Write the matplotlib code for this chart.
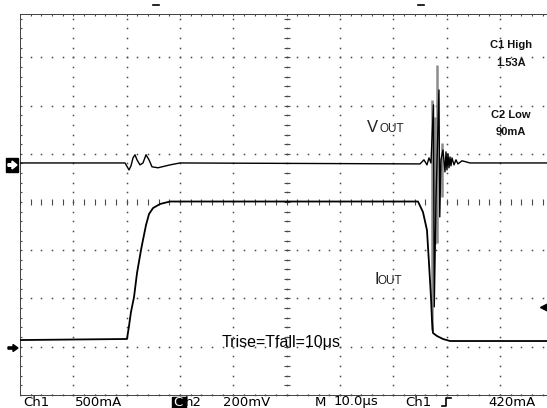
import matplotlib

matplotlib.use("Agg")

import matplotlib.pyplot as plt
import numpy as np
from matplotlib.patches import FancyArrow, Rectangle

# scope settings
CH1_SCALE = 0.5    # A/div
CH2_SCALE = 0.2    # V/div
CH1_GND = -3.05    # ground marker, div from centre
CH2_GND = 0.77
TIME_DIV = 10.0    # us/div

# Ch1: output current, time in us from the left edge of the screen
IOUT_T = [0, 20.06, 20.44, 20.81, 21.38, 21.94, 22.69, 23.06, 23.63, 24.19, 24.94,
          26.25, 28.13, 74.63, 75.56, 76.31, 76.69, 77.06, 77.25, 77.44, 78.19,
          79.31, 80.63, 98.8]
IOUT_A = [0.093, 0.104, 0.239, 0.384, 0.539, 0.788, 1.027, 1.131, 1.286, 1.400, 1.462,
          1.504, 1.53, 1.53, 1.421, 1.234, 0.892, 0.539, 0.301, 0.166, 0.135,
          0.104, 0.083, 0.083]

# Ch2: output voltage (ac), same time base
VOUT_T = [0, 19.69, 20.44, 20.81, 21.19, 21.56, 21.94, 22.5, 23.06, 23.63, 24.19,
          24.75, 25.88, 28.13, 30.0, 75.0, 75.75, 76.31, 76.69, 77.06, 77.53,
          77.68, 78.0, 78.56, 78.71, 78.94, 79.31, 79.69, 79.88, 80.06, 80.25,
          80.44, 80.63, 80.81, 81.0, 81.38, 81.75, 82.13, 82.88, 84.38, 98.8]
VOUT_V = [0.008, 0.008, -0.021, -0.004, 0.029, 0.042, 0.021, 0.0, 0.008, 0.042, 0.021,
          -0.008, -0.012, 0.0, 0.008, 0.004, 0.021, 0.0, 0.029, 0.008, 0.249,
          -0.589, -0.145, 0.311, -0.216, 0.021, 0.062, -0.029, 0.054, -0.021, 0.046,
          -0.012, 0.033, -0.004, 0.029, 0.0, 0.021, 0.004, 0.017, 0.008, 0.008]

# dimmer (persistence) ringing spikes
RING_T = [77.21, 77.9, 78.24, 79.13]
RING_HI = [0.270, 0.200, 0.415, 0.091]
RING_LO = [-0.685, -0.330, -0.324, -0.133]

READOUT = [("Ch1", 23), ("500mA", 75), ("200mV", 223), ("M", 315),
           ("10.0\u03bcs", 334), ("Ch1", 405), ("420mA", 488)]
MEASURE = [("C1 High", 45), ("1.53A", 63), ("C2 Low", 115), ("90mA", 132)]

plt.rcParams["font.family"] = ["DejaVu Sans"]

W, H = 547, 408
fig = plt.figure(figsize=(W / 100, H / 100), dpi=100)
fig.patch.set_facecolor("white")

# screen area: x 20..547 px, y 14..396 px, 53.3 px/div horiz, 48.2 px/div vert
ax = fig.add_axes([20 / W, 12 / H, 527 / W, 382 / H])
ax.set_xlim(0, 527 / 53.33 * TIME_DIV)
ax.set_ylim(-194 / 48.2, 188 / 48.2)
ax.set_axis_off()

x0, x1 = ax.get_xlim()
y0, y1 = ax.get_ylim()
dot = "#4a4a4a"
minor_t = np.arange(0, x1, TIME_DIV / 5)
minor_y = np.arange(-4, y1, 0.2)

# dotted graticule
for t in np.arange(TIME_DIV, x1, TIME_DIV):
    if abs(t - 50) > 1e-6:
        ax.plot(np.full_like(minor_y, t), minor_y, ls="none", marker="s", ms=1.1,
                color=dot, mec="none")
for yv in range(-4, 4):
    if yv != 0:
        ax.plot(minor_t, np.full_like(minor_t, yv), ls="none", marker="s", ms=1.1,
                color=dot, mec="none")

# centre crosshair with minor ticks
tx = 3 / 53.33 * TIME_DIV
ty = 3 / 48.2
ax.plot(np.full_like(minor_y, 50), minor_y, ls="none", marker="s", ms=1.1, color=dot, mec="none")
ax.hlines(minor_y, 50 - tx, 50 + tx, color=dot, lw=0.8)
ax.vlines(minor_t, -ty, ty, color=dot, lw=0.8)

# screen border with ticks
ax.axvline(0, color="#333333", lw=1.3)
ax.axhline(y1, color="#333333", lw=1.3)
ax.axhline(y0, color="#333333", lw=1.3)
ax.hlines(minor_y, 0, tx * 0.8, color=dot, lw=0.8)
ax.vlines(minor_t, y1 - ty * 0.8, y1, color=dot, lw=0.8)
ax.vlines(minor_t, y0, y0 + ty * 0.8, color=dot, lw=0.8)

# traces
ax.vlines(RING_T, np.array(RING_LO) / CH2_SCALE + CH2_GND,
          np.array(RING_HI) / CH2_SCALE + CH2_GND, color="#8c8c8c", lw=1.8, zorder=3)
ax.plot(VOUT_T, np.array(VOUT_V) / CH2_SCALE + CH2_GND, color="black", lw=1.0, zorder=4)
ax.plot(IOUT_T, np.array(IOUT_A) / CH1_SCALE + CH1_GND, color="black", lw=1.3, zorder=4)

# overlay in pixel coordinates for labels and markers
ov = fig.add_axes([0, 0, 1, 1])
ov.set_xlim(0, W)
ov.set_ylim(H, 0)
ov.set_axis_off()

# channel ground markers
ov.add_patch(Rectangle((6, 158), 12, 14, color="black"))
ov.add_patch(FancyArrow(8, 165, 4, 0, width=2.6, head_width=8, head_length=5,
                        color="white", length_includes_head=False))
ov.add_patch(FancyArrow(8, 348, 5, 0, width=2.2, head_width=7, head_length=5,
                        color="black", length_includes_head=False))
# trigger level and position markers
ov.plot([544], [307], marker="<", color="black", ms=6)
ov.plot([153, 159], [5, 5], color="black", lw=1.2)
ov.plot([418, 424], [5, 5], color="black", lw=1.2)

# trace labels
lib = "Liberation Sans"
ov.text(367, 132, "V", fontsize=12, family=lib, color="#222222", va="baseline")
ov.text(380, 132, "OUT", fontsize=8.5, family=lib, color="#222222", va="baseline")
ov.text(374, 284, "I", fontsize=12, family=lib, color="#222222", va="baseline")
ov.text(378, 284, "OUT", fontsize=8.5, family=lib, color="#222222", va="baseline")
ov.text(222, 347, "Trise=Tfall=10\u03bcs", fontsize=11.5, family=lib, color="black",
        va="baseline")

for label, yy in MEASURE:
    ov.text(511, yy, label, fontsize=8, family=lib, weight="bold", ha="center",
            va="center", color="#111111")

# bottom readout
for label, xx in READOUT:
    ov.text(xx, 405.5, label, fontsize=9.5, va="baseline", color="black")
ov.add_patch(Rectangle((172, 397), 14, 11, color="black"))
ov.text(173, 405.5, "C", fontsize=9.5, va="baseline", color="white")
ov.text(185, 405.5, "h2", fontsize=9.5, va="baseline", color="black")
ov.plot([442, 446, 446, 451], [406, 406, 398, 398], color="black", lw=1.2)

fig.savefig("out.png", dpi=100, facecolor="white")
plt.close(fig)
